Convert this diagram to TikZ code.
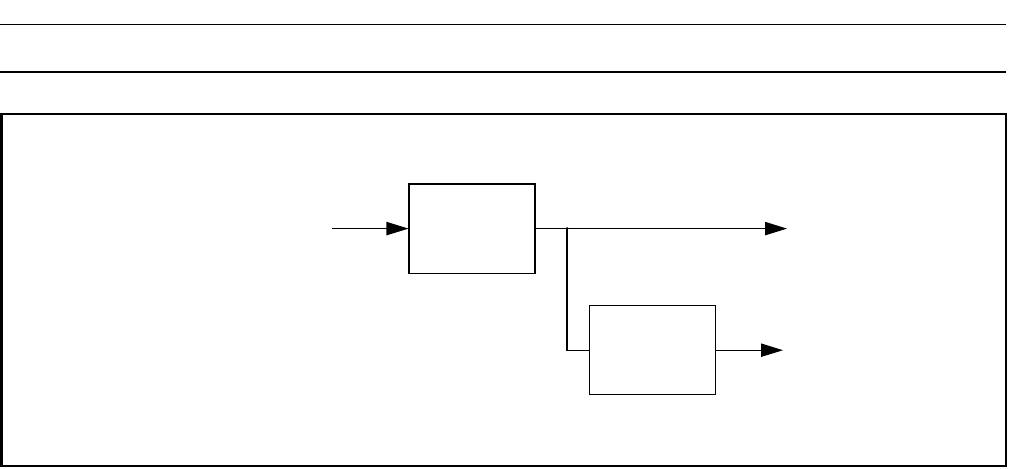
\documentclass[tikz,border=0pt]{standalone}
\usetikzlibrary{arrows.meta, positioning}

\begin{document}
\begin{tikzpicture}[x=0.75pt, y=-0.75pt,
    block/.style={draw, line width=1.1pt, minimum width=94.5pt, minimum height=67pt, inner sep=0pt},
    flow/.style={-{Triangle[length=16.5pt, width=10pt]}, line width=0.8pt}]
    \useasboundingbox (0,0) rectangle (1009,468);

    % rules above the frame
    \draw[line width=0.75pt] (0,24) -- (1006,24);
    \draw[line width=1.5pt] (0,71.5) -- (1006,71.5);

    % outer frame
    \draw[line width=1.5pt] (1.5,113.5) rectangle (1005.5,465.5);

    \node[block] (B1) at (472.2,228.6) {};
    \node[block, line width=0.8pt] (B2) at (652.5,350.2) {};

    \coordinate (IN) at (332,228.6);
    \coordinate (OUT1) at (787,228.6);
    \coordinate (OUT2) at (783,350.2);
    \coordinate (J) at (567,228.6);

    \draw[flow] (IN) -- (B1.west);
    \draw[flow] (B1.east) -- (OUT1);
    \draw[line width=0.8pt] (J) |- (B2.west);
    \draw[flow] (B2.east) -- (OUT2);
    \fill (J) circle (1.6);
\end{tikzpicture}
\end{document}
